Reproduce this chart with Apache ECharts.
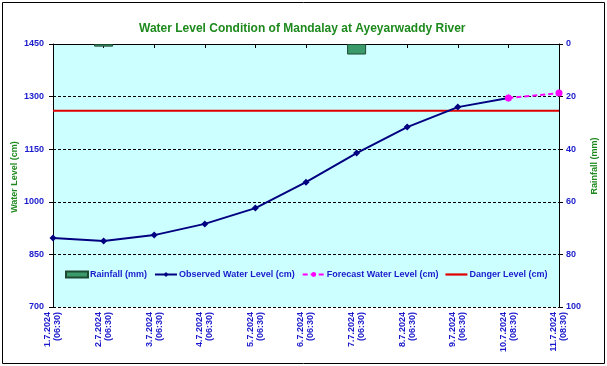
<!DOCTYPE html>
<html><head><meta charset="utf-8">
<script src="https://cdn.jsdelivr.net/npm/echarts@6/dist/echarts.min.js"></script>
<style>html,body{margin:0;padding:0;background:#fff}#c{width:607px;height:366px}</style>
</head><body><div id="c"></div>
<script>
const categories = ['1.7.2024\n(06:30)','2.7.2024\n(06:30)','3.7.2024\n(06:30)','4.7.2024\n(06:30)','5.7.2024\n(06:30)','6.7.2024\n(06:30)','7.7.2024\n(06:30)','8.7.2024\n(06:30)','9.7.2024\n(06:30)','10.7.2024\n(08:30)','11.7.2024\n(08:30)'];
const rainfall = [null, 1, null, null, null, null, 4, null, null, null, null];
const observed = [897, 888, 905, 937, 982, 1056, 1139, 1213, 1270, 1296, null];
const forecast = [null, null, null, null, null, null, null, null, null, 1296, 1310];
const danger = [1260, 1260, 1260, 1260, 1260, 1260, 1260, 1260, 1260, 1260, 1260];

const blue = '#1a1acc';
const green = '#1e8a1e';
const font = 'Liberation Sans, Arial, sans-serif';
const chart = echarts.init(document.getElementById('c'), null, {renderer: 'canvas'});
chart.setOption({
  animation: false,
  backgroundColor: '#fff',
  textStyle: {fontFamily: font},
  title: {
    text: 'Water Level Condition of Mandalay at Ayeyarwaddy River',
    left: 134, top: 18,
    textStyle: {color: green, fontSize: 12, fontWeight: 'bold', fontFamily: font}
  },
  graphic: [
    {type: 'rect', shape: {x: 2.5, y: 2.5, width: 602, height: 361}, style: {fill: 'none', stroke: '#000', lineWidth: 1}, silent: true, z: -1},
    {type: 'text', x: 15, y: 177, rotation: Math.PI / 2, style: {text: 'Water Level (cm)', fill: green, font: 'bold 9px Liberation Sans, Arial, sans-serif', align: 'center', verticalAlign: 'middle'}},
    {type: 'text', x: 595, y: 166, rotation: Math.PI / 2, style: {text: 'Rainfall (mm)', fill: green, font: 'bold 9px Liberation Sans, Arial, sans-serif', align: 'center', verticalAlign: 'middle'}}
  ],
  grid: {left: 53, right: 48, top: 44, bottom: 59, show: true, backgroundColor: '#ccffff', borderWidth: 0, outerBoundsMode: 'none', containLabel: false},
  legend: {
    left: 60, top: 265, itemGap: 7, itemWidth: 22, itemHeight: 6,
    textStyle: {color: blue, fontSize: 9, fontWeight: 'bold', fontFamily: font, padding: [0, 0, 0, -3]},
    data: [
      {name: 'Rainfall (mm)', icon: 'rect'},
      {name: 'Observed Water Level (cm)'},
      {name: 'Forecast Water Level (cm)'},
      {name: 'Danger Level (cm)', icon: 'path://M0,0H22V2.2H0Z'}
    ]
  },
  xAxis: {
    type: 'category', data: categories, boundaryGap: false,
    axisLine: {lineStyle: {color: '#000', width: 1}},
    axisTick: {show: true, length: 4, lineStyle: {color: '#000'}},
    axisLabel: {rotate: 90, color: blue, fontSize: 9, fontWeight: 'bold', fontFamily: font, lineHeight: 10, interval: 0, margin: 5}
  },
  yAxis: [{
    type: 'value', min: 700, max: 1450, interval: 150, position: 'left',
    axisLine: {show: true, lineStyle: {color: '#000'}},
    axisTick: {show: true, length: 4, lineStyle: {color: '#000'}},
    axisLabel: {color: blue, fontSize: 9, fontWeight: 'bold', fontFamily: font, margin: 9, formatter: v => String(v)},
    splitLine: {show: true, lineStyle: {color: '#000', type: [3, 2], width: 1}}
  }, {
    type: 'value', min: 0, max: 100, interval: 20, inverse: true, position: 'right',
    axisLine: {show: true, lineStyle: {color: '#000'}},
    axisTick: {show: true, length: 4, lineStyle: {color: '#000'}},
    axisLabel: {color: blue, fontSize: 9, fontWeight: 'bold', fontFamily: font, margin: 7, formatter: v => String(v)},
    splitLine: {show: false}
  }],
  series: [{
    name: 'Rainfall (mm)', type: 'bar', yAxisIndex: 1, data: rainfall, barWidth: 19,
    itemStyle: {color: '#3a9a6a', borderColor: '#1d4a33', borderWidth: 1}
  }, {
    name: 'Observed Water Level (cm)', type: 'line', data: observed,
    lineStyle: {color: '#000080', width: 2}, itemStyle: {color: '#000080'},
    symbol: 'diamond', symbolSize: 7, connectNulls: false, z: 4
  }, {
    name: 'Forecast Water Level (cm)', type: 'line', data: forecast,
    lineStyle: {color: '#ff00ff', width: 2, type: [5, 3]}, itemStyle: {color: '#ff00ff'},
    symbol: 'circle', symbolSize: 7, z: 5
  }, {
    name: 'Danger Level (cm)', type: 'line', data: danger,
    lineStyle: {color: '#e00000', width: 2}, itemStyle: {color: '#e00000'},
    symbol: 'none', z: 3
  }]
});
</script></body></html>
